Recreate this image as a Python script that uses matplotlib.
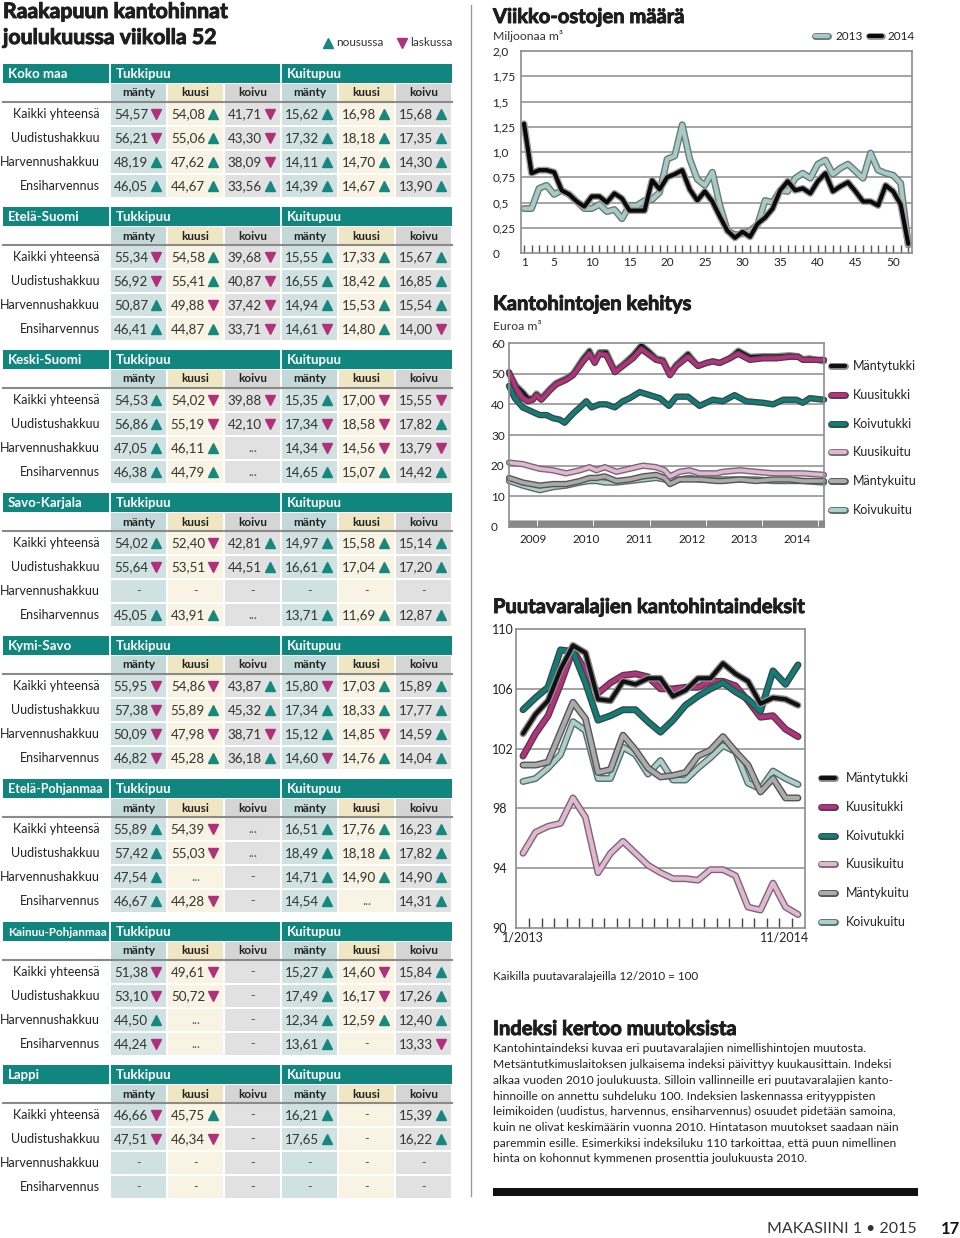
import matplotlib
matplotlib.use("Agg")
import matplotlib.pyplot as plt
import matplotlib.patheffects as pe
from matplotlib.patches import Rectangle
from matplotlib.lines import Line2D
import numpy as np

plt.rcParams["font.family"] = ["Lato", "DejaVu Sans"]

W, H = 960, 1238
TEAL = "#11867e"
UP, DOWN = "#17887f", "#b0307c"
INK, GRID, FRAME = "#1e1e1e", "#8c8c8c", "#8c8c8c"

# ---------------------------------------------------------------- table data
REGIONS = ["Koko maa", "Etelä-Suomi", "Keski-Suomi", "Savo-Karjala",
           "Kymi-Savo", "Etelä-Pohjanmaa", "Kainuu-Pohjanmaa", "Lappi"]
ROW_LABELS = ["Kaikki yhteensä", "Uudistushakkuu", "Harvennushakkuu", "Ensiharvennus"]
SPECIES = ["mänty", "kuusi", "koivu", "mänty", "kuusi", "koivu"]

KOKO_MAA = [["54,57▼", "54,08▲", "41,71▼", "15,62▲", "16,98▲", "15,68▲"],
            ["56,21▼", "55,06▲", "43,30▼", "17,32▲", "18,18▲", "17,35▲"],
            ["48,19▲", "47,62▲", "38,09▼", "14,11▲", "14,70▲", "14,30▲"],
            ["46,05▲", "44,67▲", "33,56▲", "14,39▲", "14,67▲", "13,90▲"]]
ETELA_SUOMI = [["55,34▼", "54,58▲", "39,68▼", "15,55▲", "17,33▲", "15,67▲"],
               ["56,92▼", "55,41▲", "40,87▼", "16,55▲", "18,42▲", "16,85▲"],
               ["50,87▲", "49,88▼", "37,42▼", "14,94▲", "15,53▲", "15,54▲"],
               ["46,41▲", "44,87▲", "33,71▼", "14,61▼", "14,80▲", "14,00▼"]]
KESKI_SUOMI = [["54,53▲", "54,02▼", "39,88▼", "15,35▲", "17,00▼", "15,55▼"],
               ["56,86▲", "55,19▼", "42,10▼", "17,34▼", "18,58▼", "17,82▲"],
               ["47,05▲", "46,11▲", "...", "14,34▼", "14,56▼", "13,79▼"],
               ["46,38▲", "44,79▲", "...", "14,65▲", "15,07▲", "14,42▲"]]
SAVO_KARJALA = [["54,02▲", "52,40▼", "42,81▲", "14,97▲", "15,58▲", "15,14▲"],
                ["55,64▼", "53,51▼", "44,51▲", "16,61▲", "17,04▲", "17,20▲"],
                ["-", "-", "-", "-", "-", "-"],
                ["45,05▲", "43,91▲", "...", "13,71▲", "11,69▲", "12,87▲"]]
KYMI_SAVO = [["55,95▼", "54,86▼", "43,87▲", "15,80▼", "17,03▲", "15,89▲"],
             ["57,38▼", "55,89▲", "45,32▲", "17,34▲", "18,33▲", "17,77▲"],
             ["50,09▼", "47,98▼", "38,71▼", "15,12▲", "14,85▼", "14,59▲"],
             ["46,82▼", "45,28▲", "36,18▲", "14,60▼", "14,76▲", "14,04▲"]]
ETELA_POHJANMAA = [["55,89▲", "54,39▼", "...", "16,51▲", "17,76▲", "16,23▲"],
                   ["57,42▲", "55,03▼", "...", "18,49▲", "18,18▲", "17,82▲"],
                   ["47,54▲", "...", "-", "14,71▲", "14,90▲", "14,90▲"],
                   ["46,67▲", "44,28▼", "-", "14,54▲", "...", "14,31▲"]]
KAINUU_POHJANMAA = [["51,38▼", "49,61▼", "-", "15,27▲", "14,60▼", "15,84▲"],
                    ["53,10▼", "50,72▼", "-", "17,49▲", "16,17▼", "17,26▲"],
                    ["44,50▲", "...", "-", "12,34▲", "12,59▲", "12,40▲"],
                    ["44,24▼", "...", "-", "13,61▲", "-", "13,33▼"]]
LAPPI = [["46,66▼", "45,75▲", "-", "16,21▲", "-", "15,39▲"],
         ["47,51▼", "46,34▼", "-", "17,65▲", "-", "16,22▲"],
         ["-", "-", "-", "-", "-", "-"],
         ["-", "-", "-", "-", "-", "-"]]
TABLES = [KOKO_MAA, ETELA_SUOMI, KESKI_SUOMI, SAVO_KARJALA,
          KYMI_SAVO, ETELA_POHJANMAA, KAINUU_POHJANMAA, LAPPI]

# ------------------------------------------------------- weekly purchases
WEEKS = list(range(1, 53))
BUY_2013 = [0.44, 0.44, 0.64, 0.67, 0.58, 0.62, 0.58, 0.51, 0.44, 0.44, 0.48, 0.41, 0.43,
            0.34, 0.47, 0.47, 0.52, 0.53, 0.60, 0.93, 0.96, 1.27, 0.93, 0.73, 0.67, 0.80,
            0.47, 0.22, 0.18, 0.19, 0.22, 0.28, 0.52, 0.50, 0.62, 0.61, 0.74, 0.79, 0.74,
            0.88, 0.92, 0.78, 0.84, 0.88, 0.81, 0.74, 0.99, 0.82, 0.79, 0.77, 0.69, 0.08]
BUY_2014 = [1.28, 0.79, 0.82, 0.82, 0.80, 0.62, 0.58, 0.51, 0.46, 0.56, 0.56, 0.50, 0.59,
            0.54, 0.42, 0.42, 0.42, 0.72, 0.63, 0.75, 0.78, 0.82, 0.63, 0.52, 0.61, 0.51,
            0.36, 0.22, 0.15, 0.21, 0.16, 0.29, 0.35, 0.44, 0.62, 0.71, 0.62, 0.64, 0.59,
            0.71, 0.79, 0.61, 0.66, 0.70, 0.61, 0.51, 0.51, 0.47, 0.67, 0.61, 0.48, 0.09]

# ------------------------------------------------------ stumpage price trend
T_TUKKI = [2009.00, 2009.14, 2009.26, 2009.36, 2009.45, 2009.52, 2009.61, 2009.77, 2009.89,
           2010.08, 2010.21, 2010.40, 2010.52, 2010.62, 2010.71, 2010.84, 2011.00, 2011.15,
           2011.34, 2011.50, 2011.66, 2011.78, 2011.91, 2012.04, 2012.16, 2012.38, 2012.57,
           2012.73, 2012.85, 2012.98, 2013.17, 2013.33, 2013.55, 2013.80, 2014.05, 2014.30,
           2014.46, 2014.55, 2014.68, 2014.95]
MANTYTUKKI = [50, 46, 44, 42, 42, 43.5, 42, 45, 47, 48.5, 50, 55, 57.5, 54, 57, 57, 51, 53,
              56, 59.3, 57, 55, 54.5, 50, 53, 56.5, 52.5, 53.5, 54, 53.5, 55, 57.5, 55.5,
              55.7, 55.7, 56, 55.7, 54.7, 55, 54]
KUUSITUKKI = [50.5, 45, 42, 41, 41.5, 43, 41.5, 44.5, 46.5, 48, 49.5, 54, 56.5, 53.5, 56.5,
              56, 50.5, 52.5, 55, 58, 56, 54.5, 54, 49.5, 52.5, 55.5, 52.5, 53.5, 54, 53.5,
              55, 56.5, 54.5, 55, 55, 55.5, 55.5, 54.5, 54.5, 54.5]
T_KOIVUTUKKI = [2009.00, 2009.11, 2009.26, 2009.45, 2009.58, 2009.71, 2009.83, 2009.96,
                2010.05, 2010.21, 2010.34, 2010.46, 2010.56, 2010.71, 2010.84, 2011.00,
                2011.15, 2011.28, 2011.47, 2011.66, 2011.85, 2012.02, 2012.16, 2012.38,
                2012.60, 2012.85, 2013.04, 2013.26, 2013.48, 2013.80, 2013.99, 2014.18,
                2014.43, 2014.55, 2014.68, 2014.95]
KOIVUTUKKI = [46, 42, 39, 37.5, 36.5, 36.5, 35.5, 35, 34, 37, 39, 41, 39, 40, 40, 39, 41, 42,
              44, 43, 42, 39.5, 42.5, 42.5, 39.5, 41.5, 41, 43, 41, 40.5, 40, 41.5, 41.5,
              40.5, 42, 41.5]
T_KUITU = [2009.00, 2009.26, 2009.58, 2009.83, 2010.08, 2010.34, 2010.52, 2010.65, 2010.81,
           2011.03, 2011.28, 2011.53, 2011.78, 2011.94, 2012.04, 2012.22, 2012.41, 2012.60,
           2012.92, 2013.04, 2013.36, 2013.67, 2013.99, 2014.30, 2014.55, 2014.95]
KUUSIKUITU = [21, 20.5, 19, 18.5, 17.5, 18.5, 19.5, 18.5, 19.5, 18, 19, 20, 19.5, 18.5, 16.5,
              18, 18.5, 17.5, 17.5, 18, 18.5, 18, 17.5, 17.5, 17.5, 17]
MANTYKUITU = [16, 14.5, 13.5, 14, 14, 15, 16, 16, 16.5, 15, 15.5, 16.5, 17, 16, 14, 15.5,
              15.5, 15.5, 15, 15, 15.5, 15, 15.5, 15.5, 15, 15]
KOIVUKUITU = [15, 13.5, 12, 13, 13.5, 14.5, 15, 15, 14.5, 14.5, 15, 15.5, 16, 15.5, 15, 15.5,
              16, 15.5, 15.5, 15.5, 15.5, 15.5, 15, 15, 15, 14.5]
YEARS = [2009, 2010, 2011, 2012, 2013, 2014]

# ------------------------------------------------ stumpage index 1/2013-11/2014
IDX_MANTYTUKKI = [103.0, 104.3, 105.2, 107.3, 108.9, 108.4, 105.3, 105.2, 106.5, 106.3,
                  106.7, 106.7, 105.5, 105.9, 106.7, 106.7, 107.7, 107.0, 106.5, 105.0,
                  105.4, 105.3, 104.9]
IDX_KUUSITUKKI = [101.5, 103.0, 104.2, 106.3, 108.6, 107.2, 105.7, 106.4, 106.9, 107.0,
                  106.8, 106.0, 106.0, 106.1, 106.1, 106.5, 106.5, 106.2, 105.2, 104.1,
                  104.2, 103.3, 102.8]
IDX_KOIVUTUKKI = [104.6, 105.4, 106.1, 108.6, 108.5, 106.4, 103.9, 104.2, 104.6, 104.6,
                  103.8, 103.1, 103.9, 104.9, 105.5, 106.0, 106.4, 105.8, 105.3, 104.5,
                  107.2, 106.3, 107.6]
IDX_KUUSIKUITU = [95.0, 96.4, 96.8, 97.0, 98.7, 97.4, 93.7, 95.0, 95.8, 95.0, 94.2, 93.7,
                  93.3, 93.3, 93.2, 93.9, 93.9, 93.5, 91.4, 91.2, 93.0, 91.4, 90.9]
IDX_MANTYKUITU = [100.9, 100.9, 101.1, 103.1, 105.1, 104.0, 100.4, 100.6, 102.9, 101.9,
                  100.7, 100.1, 100.2, 100.4, 101.5, 101.9, 102.8, 101.8, 100.9, 99.1,
                  100.0, 98.7, 98.7]
IDX_KOIVUKUITU = [99.8, 100.0, 100.7, 101.6, 103.8, 103.2, 100.0, 100.0, 102.1, 101.6,
                  100.3, 101.2, 99.9, 99.9, 100.7, 101.4, 102.2, 101.8, 99.7, 99.3,
                  100.5, 100.0, 99.6]

SERIES = ["Mäntytukki", "Kuusitukki", "Koivutukki", "Kuusikuitu", "Mäntykuitu", "Koivukuitu"]
STYLE = {  # core colour, outline colour
    "Mäntytukki": ("#111111", "#8e8e8e"),
    "Kuusitukki": ("#b8307f", "#4f4048"),
    "Koivutukki": ("#127d77", "#374a48"),
    "Kuusikuitu": ("#e3b6d3", "#766973"),
    "Mäntykuitu": ("#ababab", "#555555"),
    "Koivukuitu": ("#abcfcb", "#5c6b6a"),
}

PARAGRAPH = [
    "Kantohintaindeksi kuvaa eri puutavaralajien nimellishintojen muutosta.",
    "Metsäntutkimuslaitoksen julkaisema indeksi päivittyy kuukausittain. Indeksi",
    "alkaa vuoden 2010 joulukuusta. Silloin vallinneille eri puutavaralajien kanto-",
    "hinnoille on annettu suhdeluku 100. Indeksien laskennassa erityyppisten",
    "leimikoiden (uudistus, harvennus, ensiharvennus) osuudet pidetään samoina,",
    "kuin ne olivat keskimäärin vuonna 2010. Hintatason muutokset saadaan näin",
    "paremmin esille. Esimerkiksi indeksiluku 110 tarkoittaa, että puun nimellinen",
    "hinta on kohonnut kymmenen prosenttia joulukuusta 2010.",
]

# heavy display type: bold face thickened with a thin stroke of its own colour
HEAVY = dict(fontweight="bold", color=INK, va="center",
             path_effects=[pe.withStroke(linewidth=0.7, foreground=INK)])


def _fx(core, edge, lw):
    return dict(color=core, lw=lw, solid_capstyle="round", solid_joinstyle="round",
                path_effects=[pe.Stroke(linewidth=lw + 2.0, foreground=edge), pe.Normal()])


def px_axes(fig, l, t, r, b):
    return fig.add_axes([l / W, 1 - b / H, (r - l) / W, (b - t) / H])


def _frame(ax):
    for s in ax.spines.values():
        s.set_color(FRAME)
        s.set_linewidth(1.2)
    ax.set_facecolor("none")


def main():
    fig = plt.figure(figsize=(W / 100, H / 100), dpi=100)
    bg = fig.add_axes([0, 0, 1, 1])
    bg.set_xlim(0, W)
    bg.set_ylim(H, 0)
    bg.axis("off")

    # ---------------- left: table
    bg.text(3, 12, "Raakapuun kantohinnat", fontsize=15.3, **HEAVY)
    bg.text(3, 38, "joulukuussa viikolla 52", fontsize=15.3, **HEAVY)
    bg.plot([328], [43], marker="^", ms=7, color=UP, ls="none")
    bg.text(336, 43, "nousussa", fontsize=8.5, va="center", color="#333")
    bg.plot([402], [43], marker="v", ms=7, color=DOWN, ls="none")
    bg.text(410, 43, "laskussa", fontsize=8.5, va="center", color="#333")

    cell_x = [(111, 166), (168, 223), (225, 280), (282, 337), (339, 394), (396, 451)]
    head_col = ["#c3d9d9", "#efe6c3", "#d5d5d5"] * 2
    body_col = ["#cfe1e1", "#f8f3e2", "#e1e1e1"] * 2
    for k, (name, rows) in enumerate(zip(REGIONS, TABLES)):
        y0 = 64 + 143 * k
        bg.add_patch(Rectangle((3, y0), 449, 19, color=TEAL, lw=0))
        for xv in (109.5, 281):
            bg.plot([xv, xv], [y0, y0 + 19], color="white", lw=1.3)
        bg.text(8, y0 + 10, name, color="white", fontweight="bold", va="center",
                fontsize=9.5 if len(name) < 15 else (9.0 if len(name) < 16 else 8.4))
        bg.text(116, y0 + 10, "Tukkipuu", color="white", fontweight="bold", va="center", fontsize=9.5)
        bg.text(287, y0 + 10, "Kuitupuu", color="white", fontweight="bold", va="center", fontsize=9.5)
        for c, (xa, xb) in enumerate(cell_x):
            bg.add_patch(Rectangle((xa, y0 + 20), xb - xa, 17, color=head_col[c], lw=0))
            bg.text((xa + xb) / 2, y0 + 29, SPECIES[c], ha="center", va="center",
                    fontsize=8.5, fontweight="bold", color="#222")
        bg.plot([3, 452], [y0 + 38, y0 + 38], color="#8a8a8a", lw=1.5)
        for r, row in enumerate(rows):
            yc = y0 + 50 + 24 * r
            bg.text(100, yc, ROW_LABELS[r], ha="right", va="center", fontsize=9.0, color="#222")
            for c, (xa, xb) in enumerate(cell_x):
                bg.add_patch(Rectangle((xa, yc - 11), xb - xa, 22, color=body_col[c], lw=0))
                val = row[c]
                if val[-1] in "▲▼":
                    bg.text(xb - 18, yc, val[:-1], ha="right", va="center", fontsize=9.6, color="#333")
                    up = val[-1] == "▲"
                    bg.plot([xb - 10], [yc], marker="^" if up else "v", ms=6.8,
                            color=UP if up else DOWN, ls="none")
                else:
                    bg.text((xa + xb) / 2, yc, val, ha="center", va="center", fontsize=9, color="#555")

    bg.plot([471, 471], [5, 1196], color="#9a9a9a", lw=1)

    # ---------------- chart 1: weekly purchases
    bg.text(493, 17, "Viikko-ostojen määrä", fontsize=14.5, **HEAVY)
    bg.text(493, 36, "Miljoonaa m³", fontsize=8.8, va="center", color="#333")
    ax1 = px_axes(fig, 521, 51, 912, 253)
    _frame(ax1)
    ax1.set_xlim(0.6, 52.5)
    ax1.set_ylim(0, 2.0)
    yt = [0, 0.25, 0.5, 0.75, 1.0, 1.25, 1.5, 1.75, 2.0]
    for v in yt[1:-1]:
        ax1.axhline(v, color=GRID, lw=1.1, zorder=0)
    ax1.set_yticks(yt)
    ax1.set_yticklabels(["0", "0,25", "0,5", "0,75", "1,0", "1,25", "1,5", "1,75", "2,0"],
                        ha="left")
    ax1.tick_params(axis="y", length=0, pad=20.5, labelsize=8.5, labelcolor="#222")
    ax1.set_xticks([1, 5, 10, 15, 20, 25, 30, 35, 40, 45, 50])
    ax1.set_xticks(WEEKS, minor=True)
    ax1.tick_params(axis="x", which="both", direction="in", length=6, width=1, color="#555",
                    labelsize=8.5, labelcolor="#222", pad=3)
    ax1.plot(WEEKS, BUY_2013, **_fx("#a6cac6", "#6b7978", 3.0), clip_on=False)
    ax1.plot(WEEKS, BUY_2014, **_fx("#0a0a0a", "#a0a0a0", 3.0), clip_on=False)
    bg.add_line(Line2D([815, 828], [36, 36], **_fx("#a6cac6", "#6b7978", 3.0)))
    bg.text(835, 36, "2013", fontsize=8.5, va="center", color="#222")
    bg.add_line(Line2D([869, 882], [36, 36], **_fx("#0a0a0a", "#a0a0a0", 3.0)))
    bg.text(888, 36, "2014", fontsize=8.5, va="center", color="#222")

    # ---------------- chart 2: price trend
    bg.text(493, 304, "Kantohintojen kehitys", fontsize=14.5, **HEAVY)
    bg.text(493, 326, "Euroa m³", fontsize=8.8, va="center", color="#333")
    ax2 = px_axes(fig, 509, 343, 824, 527)
    _frame(ax2)
    ax2.set_xlim(2009.0, 2014.95)
    ax2.set_ylim(0, 60)
    for v in range(10, 60, 10):
        ax2.axhline(v, color=GRID, lw=1.1, zorder=0)
    ax2.set_yticks(range(0, 70, 10))
    ax2.set_yticklabels([str(v) for v in range(0, 70, 10)], ha="left")
    ax2.tick_params(axis="y", length=0, pad=13, labelsize=8.5, labelcolor="#222")
    ax2.set_xticks([y + 0.45 for y in YEARS])
    ax2.set_xticklabels([str(y) for y in YEARS])
    ax2.set_xticks(np.arange(2009.0, 2014.96, 1 / 52), minor=True)
    ax2.tick_params(axis="x", which="major", length=0, labelsize=8.5, labelcolor="#222", pad=5)
    ax2.tick_params(axis="x", which="minor", direction="in", length=5, width=0.8, color="#888")
    trend = [(T_KUITU, KOIVUKUITU, "Koivukuitu"), (T_KUITU, MANTYKUITU, "Mäntykuitu"),
             (T_KUITU, KUUSIKUITU, "Kuusikuitu"), (T_KOIVUTUKKI, KOIVUTUKKI, "Koivutukki"),
             (T_TUKKI, MANTYTUKKI, "Mäntytukki"), (T_TUKKI, KUUSITUKKI, "Kuusitukki")]
    for t, v, nm in trend:
        ax2.plot(t, v, **_fx(*STYLE[nm], 2.6), clip_on=False)
    for i, nm in enumerate(SERIES):
        y = 366 + 28.8 * i
        bg.add_line(Line2D([831, 845], [y, y], **_fx(*STYLE[nm], 3.0)))
        bg.text(853, y, nm, fontsize=9, va="center", color="#222")

    # ---------------- chart 3: index
    bg.text(493, 607, "Puutavaralajien kantohintaindeksit", fontsize=14.5, **HEAVY)
    ax3 = px_axes(fig, 516, 629, 805, 928)
    _frame(ax3)
    months = list(range(len(IDX_MANTYTUKKI)))
    ax3.set_xlim(-0.56, 22.56)
    ax3.set_ylim(90, 110)
    for v in (94, 98, 102, 106):
        ax3.axhline(v, color=GRID, lw=1.1, zorder=0)
    ax3.set_yticks([90, 94, 98, 102, 106, 110])
    ax3.set_yticklabels(["90", "94", "98", "102", "106", "110"], ha="left")
    ax3.tick_params(axis="y", length=0, pad=17, labelsize=9, labelcolor="#222")
    ax3.set_xticks([m + 0.5 for m in months[:-1]])
    ax3.set_xticklabels([])
    ax3.tick_params(axis="x", direction="in", length=7, width=1, color="#444")
    ax3.text(0, -0.012, "1/2013", transform=ax3.get_xaxis_transform(), ha="center", va="top",
             fontsize=9, color="#222")
    ax3.text(1.015, -0.012, "11/2014", transform=ax3.transAxes, ha="right", va="top",
             fontsize=9, color="#222")
    index = [(IDX_KUUSIKUITU, "Kuusikuitu"), (IDX_KOIVUKUITU, "Koivukuitu"),
             (IDX_MANTYKUITU, "Mäntykuitu"), (IDX_KUUSITUKKI, "Kuusitukki"),
             (IDX_KOIVUTUKKI, "Koivutukki"), (IDX_MANTYTUKKI, "Mäntytukki")]
    for v, nm in index:
        ax3.plot(months, v, **_fx(*STYLE[nm], 3.0))
    for i, nm in enumerate(SERIES):
        y = 778 + 28.8 * i
        bg.add_line(Line2D([821, 835], [y, y], **_fx(*STYLE[nm], 3.0)))
        bg.text(846, y, nm, fontsize=9, va="center", color="#222")

    bg.text(493, 976, "Kaikilla puutavaralajeilla 12/2010 = 100", fontsize=8.4, va="center", color="#222")

    # ---------------- text block and footer
    bg.text(493, 1029, "Indeksi kertoo muutoksista", fontsize=14.5, **HEAVY)
    for i, line in enumerate(PARAGRAPH):
        bg.text(493, 1049 + 15.7 * i, line, fontsize=8.65, va="center", color="#222")
    bg.add_patch(Rectangle((493, 1188), 425, 8, color="#111", lw=0))
    bg.text(917, 1229, "MAKASIINI 1 • 2015", fontsize=11.5, ha="right",
            va="center", color="#333")
    bg.text(960, 1229, "17", fontsize=12, fontweight="bold", ha="right", va="center", color="#111")

    fig.savefig("out.png", dpi=100)


if __name__ == "__main__":
    main()
